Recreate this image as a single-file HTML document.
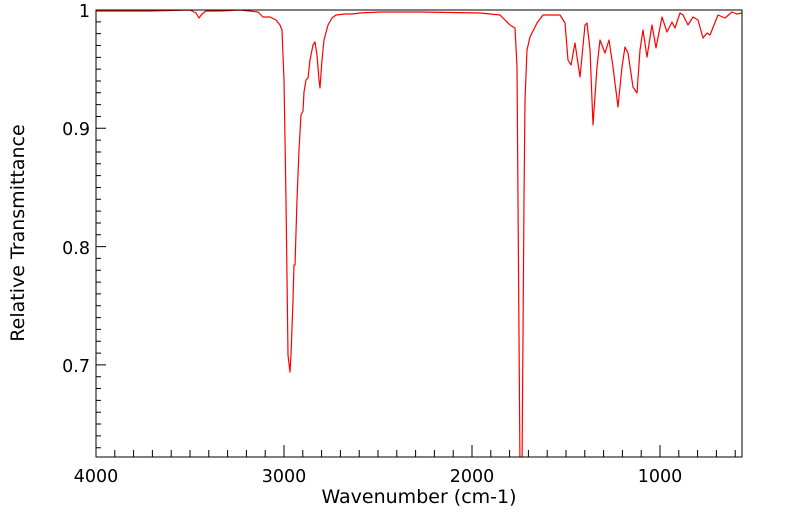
<!DOCTYPE html>
<html><head><meta charset="utf-8"><style>
body{margin:0;background:#fff;}
svg{display:block;font-family:"DejaVu Sans","Liberation Sans",sans-serif;}
</style></head><body>
<svg width="799" height="516" viewBox="0 0 799 516" xmlns="http://www.w3.org/2000/svg">
<defs><clipPath id="c"><rect x="96" y="10" width="646" height="447"/></clipPath></defs>
<path stroke="#000" stroke-width="1" fill="none" d="
M96,457V445 M114.8,457V450 M133.6,457V450 M152.4,457V450 M171.2,457V450 M190,457V450 M208.8,457V450 M227.6,457V450 M246.4,457V450 M265.2,457V450
M284,457V445 M302.8,457V450 M321.6,457V450 M340.4,457V450 M359.2,457V450 M378,457V450 M396.8,457V450 M415.6,457V450 M434.4,457V450 M453.2,457V450
M472,457V445 M490.8,457V450 M509.6,457V450 M528.4,457V450 M547.2,457V450 M566,457V450 M584.8,457V450 M603.6,457V450 M622.4,457V450 M641.2,457V450
M660,457V445 M678.8,457V450 M697.6,457V450 M716.4,457V450 M735.2,457V450
M96,21.83h5 M96,33.66h5 M96,45.49h5 M96,57.32h5 M96,69.15h5 M96,80.98h5 M96,92.81h5 M96,104.64h5 M96,116.47h5 M96,128.3h10
M96,140.13h5 M96,151.96h5 M96,163.79h5 M96,175.62h5 M96,187.45h5 M96,199.28h5 M96,211.11h5 M96,222.94h5 M96,234.77h5 M96,246.6h10
M96,258.43h5 M96,270.26h5 M96,282.09h5 M96,293.92h5 M96,305.75h5 M96,317.58h5 M96,329.41h5 M96,341.24h5 M96,353.07h5 M96,364.9h10
M96,376.73h5 M96,388.56h5 M96,400.39h5 M96,412.22h5 M96,424.05h5 M96,435.88h5 M96,447.71h5"/>
<polyline clip-path="url(#c)" fill="none" stroke="#ff0000" stroke-width="1.2" stroke-linejoin="round" points="
96,11 150,11 190,10 196,13 199,18 202,14 206,11 220,11 240,10 258,12 263,17 270,17 276,20 280,25 282,30 284,80 286,200 288,355 290,372 291,355 293,300 294,265 295,265 297,200 299,150 301,115 303,111 304,92 306,80 308,78 310,60 313,45 315,42 317,55 319,80 320,88 322,60 324,40 328,25 332,18 336,15 345,14 352,14 360,13 380,12 420,12 480,13 500,15 510,25 515,28 517,67 518,200 520,470 522,470 524,200 525,100 527,50 530,37 537,23 543,15 560,15 565,23 568,60 571,65 575,43 580,77 585,25 587,23 590,50 593,125 597,67 600,40 605,53 609,40 613,67 618,107 622,67 625,47 628,53 633,87 637,93 640,50 643,30 647,57 652,25 656,48 662,17 667,32 672,22 675,28 680,13 683,15 688,25 693,17 698,20 703,38 707,33 710,35 718,15 725,18 732,12 737,14 742,13"/>
<rect x="96" y="10" width="646" height="447" fill="none" stroke="#000" stroke-width="1"/>
<g font-size="17.5" fill="#000">
<text x="90" y="17" text-anchor="end">1</text>
<text x="90" y="135" text-anchor="end">0.9</text>
<text x="90" y="254" text-anchor="end">0.8</text>
<text x="90" y="372" text-anchor="end">0.7</text>
<text x="96" y="482" text-anchor="middle">4000</text>
<text x="284" y="482" text-anchor="middle">3000</text>
<text x="472" y="482" text-anchor="middle">2000</text>
<text x="660" y="482" text-anchor="middle">1000</text>
</g>
<text x="419" y="503" font-size="19" text-anchor="middle">Wavenumber (cm-1)</text>
<text transform="translate(24,233) rotate(-90)" font-size="19" text-anchor="middle">Relative Transmittance</text>
</svg>
</body></html>
